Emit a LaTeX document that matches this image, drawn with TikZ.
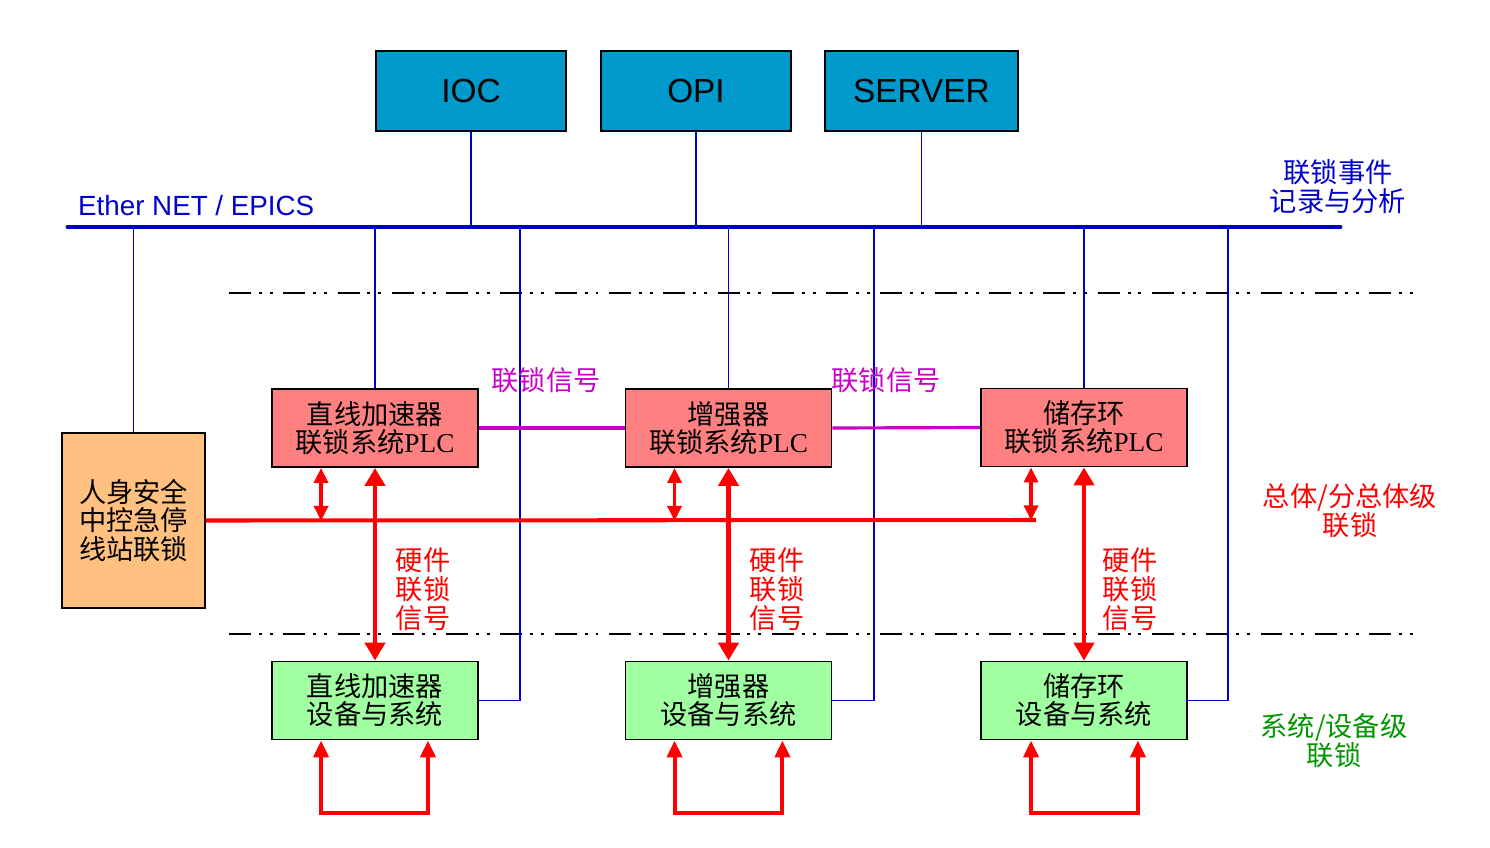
\documentclass[tikz,border=0pt]{standalone}
\usepackage{fontspec}
\setmainfont{Liberation Sans}
\newfontfamily\cjk{Noto Sans CJK SC}
\newfontfamily\plcfont{Liberation Serif}
\usetikzlibrary{arrows.meta,calc}
\definecolor{iocblue}{RGB}{0,153,204}
\definecolor{plcred}{RGB}{255,128,128}
\definecolor{devgreen}{RGB}{160,255,160}
\definecolor{safeorange}{RGB}{255,192,128}
\definecolor{netblue}{RGB}{0,0,204}
\definecolor{sigmagenta}{RGB}{200,0,200}
\definecolor{lvlgreen}{RGB}{0,150,0}
\tikzset{
  topbox/.style={draw=black,line width=1.1pt,fill=iocblue,minimum width=3.8cm,minimum height=1.6cm,
    font=\fontsize{19}{22}\selectfont},
  plcbox/.style={draw=black,line width=1.1pt,fill=plcred,minimum width=4.12cm,minimum height=1.56cm,
    align=center,font=\cjk\fontsize{15.5}{16}\selectfont},
  devbox/.style={plcbox,fill=devgreen},
  label/.style={align=center,font=\cjk\fontsize{15.5}{16.5}\selectfont},
  netline/.style={netblue,line width=0.9pt},
  levelline/.style={black,line width=1.1pt,dash pattern=on 12.5pt off 4.5pt on 1.7pt off 4.5pt on 1.7pt off 6pt},
  bigarr/.style={red,line width=2.8pt,{Triangle[length=0.36cm,width=0.4cm]}-{Triangle[length=0.36cm,width=0.4cm]}},
  smallarr/.style={red,line width=1.8pt,{Triangle[length=0.3cm,width=0.28cm]}-{Triangle[length=0.3cm,width=0.28cm]}},
  looparr/.style={red,line width=2.3pt,{Triangle[length=0.34cm,width=0.3cm]}-{Triangle[length=0.34cm,width=0.3cm]}}
}
\begin{document}
\begin{tikzpicture}[x=0.02cm,y=-0.02cm]
  \useasboundingbox (0,0) rectangle (1490,848);

  \node[topbox] (ioc) at (471,91) {IOC};
  \node[topbox] (opi) at (696,91) {OPI};
  \node[topbox,minimum width=3.86cm] (server) at (921.5,91) {SERVER};

  \coordinate (busL) at (68,227);
  \coordinate (busR) at (1340,227);
  \draw[netblue,line width=2.8pt,line cap=round] (busL) -- (busR);
  \node[anchor=west,netblue,font=\fontsize{15.8}{18}\selectfont] (ethlbl) at (72,206) {Ether NET / EPICS};
  \node[label,netblue] (loglbl) at (1338,187) {联锁事件\\记录与分析};

  \draw[levelline] (229,293) -- (1422,293);
  \draw[levelline] (229,634) -- (1422,634);

  \node[plcbox] (plcA) at (375,428) {直线加速器\\联锁系统{\plcfont PLC}};
  \node[plcbox] (plcB) at (728.5,428) {增强器\\联锁系统{\plcfont PLC}};
  \node[plcbox] (plcC) at (1084,427.5) {储存环\\联锁系统{\plcfont PLC}};

  \node[devbox] (devA) at (375,700.5) {直线加速器\\设备与系统};
  \node[devbox] (devB) at (728.5,700.5) {增强器\\设备与系统};
  \node[devbox] (devC) at (1084,700.5) {储存环\\设备与系统};

  \node[draw=black,line width=1.1pt,fill=safeorange,minimum width=2.86cm,minimum height=3.5cm,
    align=center,font=\cjk\fontsize{15.5}{16}\selectfont] (safety) at (133.5,520.5) {人身安全\\中控急停\\线站联锁};

  % network taps
  \draw[netline] (ioc.south) -- (ioc.south |- busL);
  \draw[netline] (opi.south) -- (opi.south |- busL);
  \draw[netline] (server.south) -- (server.south |- busL);
  \draw[netline] (safety.north) -- (safety.north |- busL);
  \draw[netline] (plcA.north) -- (plcA.north |- busL);
  \draw[netline] (plcB.north) -- (plcB.north |- busL);
  \draw[netline] (plcC.north) -- (plcC.north |- busL);
  \coordinate (tapA) at (520,227);
  \coordinate (tapB) at (874,227);
  \coordinate (tapC) at (1228,227);
  \draw[netline] (devA.east) -| (tapA);
  \draw[netline] (devB.east) -| (tapB);
  \draw[netline] (devC.east) -| (tapC);

  % interlock signals between PLCs
  \draw[sigmagenta,line width=1.8pt] (plcA.east) -- (plcB.west);
  \draw[sigmagenta,line width=1.8pt] (plcB.east) -- (plcC.west);
  \node[label,sigmagenta] (sigAB) at (546,380) {联锁信号};
  \node[label,sigmagenta] (sigBC) at (886,380) {联锁信号};

  % emergency stop line
  \coordinate (stopEnd) at (1036,520);
  \draw[red,line width=2.3pt] (safety.east) -- (stopEnd);
  \draw[smallarr] ($(plcA.south west)+(50,0)$) -- ++(0,53);
  \draw[smallarr] ($(plcB.south west)+(50,0)$) -- ++(0,53);
  \draw[smallarr] ($(plcC.south west)+(51,0)$) -- ++(0,53);

  % hardware interlock
  \draw[bigarr] (plcA.south) -- (devA.north);
  \draw[bigarr] (plcB.south) -- (devB.north);
  \draw[bigarr] (plcC.south) -- (devC.north);
  \node[label,red] (hwA) at (423,589) {硬件\\联锁\\信号};
  \node[label,red] (hwB) at (777,589) {硬件\\联锁\\信号};
  \node[label,red] (hwC) at (1130,589) {硬件\\联锁\\信号};

  % device level loops
  \draw[looparr] ($(devA.south west)+(50,0)$) -- ++(0,73) -| ($(devA.south east)+(-51,0)$);
  \draw[looparr] ($(devB.south west)+(50,0)$) -- ++(0,73) -| ($(devB.south east)+(-50,0)$);
  \draw[looparr] ($(devC.south west)+(51,0)$) -- ++(0,73) -| ($(devC.south east)+(-50,0)$);

  \node[label,red] (lvlTop) at (1350,511) {总体/分总体级\\联锁};
  \node[label,lvlgreen] (lvlDev) at (1334,741) {系统/设备级\\联锁};
\end{tikzpicture}
\end{document}
